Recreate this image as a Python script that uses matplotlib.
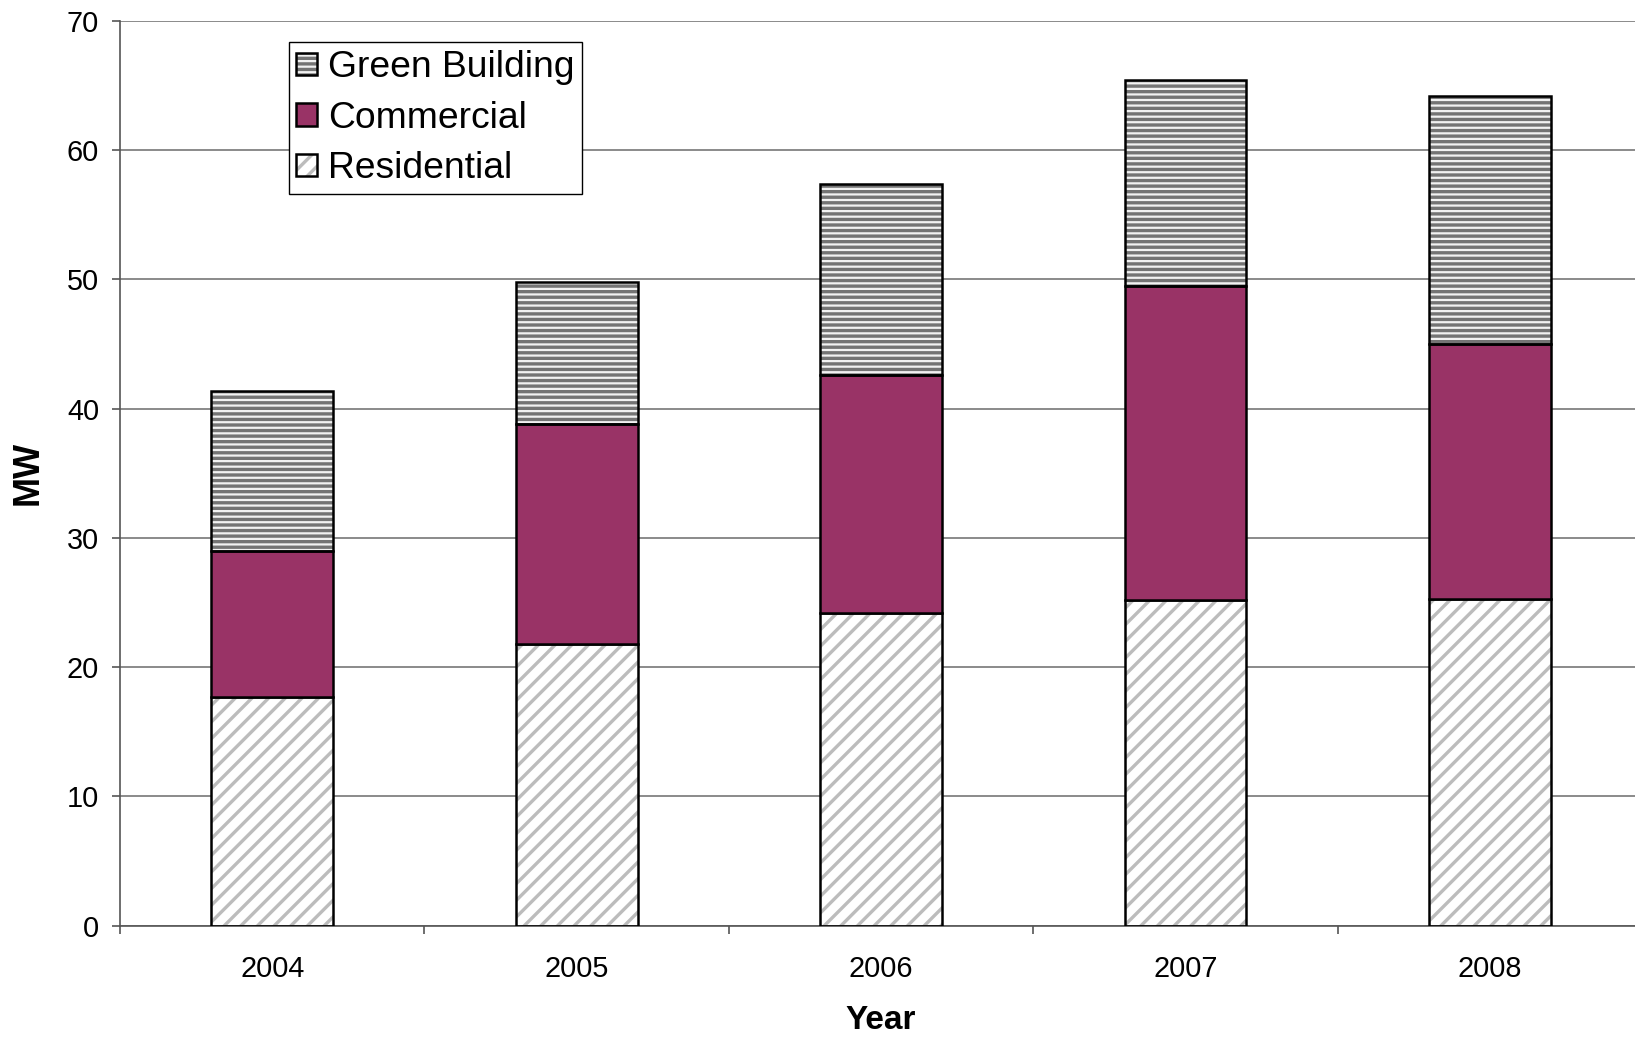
import matplotlib.pyplot as plt
from matplotlib.legend_handler import HandlerTuple
import numpy as np

plt.rcParams['font.family'] = ['Liberation Sans', 'DejaVu Sans']
plt.rcParams['hatch.linewidth'] = 1.2

# data (MW)
years = ['2004', '2005', '2006', '2007', '2008']
residential = [17.7, 21.8, 24.2, 25.2, 25.3]
commercial = [11.3, 17.0, 18.4, 24.3, 19.7]
green_building = [12.4, 11.0, 14.8, 15.9, 19.2]

x = np.arange(len(years))
w = 0.4
bottom2 = np.array(residential) + np.array(commercial)

fig = plt.figure(figsize=(8.175, 5.195), dpi=200)
ax = fig.add_axes([0.0734, 0.109, 0.931, 0.871])

# residential: diagonal gray hatch on white
r1 = ax.bar(x, residential, w, color='white', edgecolor='#bcbcbc', hatch='////', linewidth=0, zorder=2)
r2 = ax.bar(x, residential, w, fill=False, edgecolor='black', linewidth=0.9, zorder=3)
# commercial
c1 = ax.bar(x, commercial, w, bottom=residential, color='#993366', edgecolor='black', linewidth=0.9, zorder=3)
# green building: horizontal gray stripes
g1 = ax.bar(x, green_building, w, bottom=bottom2, color='#f2f2f2', edgecolor='#747474', hatch='------', linewidth=0, zorder=2)
g2 = ax.bar(x, green_building, w, bottom=bottom2, fill=False, edgecolor='black', linewidth=0.9, zorder=3)

ax.set_xlim(-0.5, len(years) - 0.5)
ax.set_ylim(0, 70)
ax.set_yticks(range(0, 71, 10))
ax.set_xticks(x)
ax.set_xticklabels(years)
ax.set_xticks(np.arange(-0.5, len(years), 1), minor=True)
ax.tick_params(axis='x', which='major', length=0, pad=10.5, labelsize=10.4)
ax.tick_params(axis='x', which='minor', length=3, width=0.6, color='#555555')
ax.tick_params(axis='y', length=3, width=0.6, color='#555555', pad=4.5, labelsize=10.4)

ax.grid(axis='y', color='#777777', linewidth=0.6, zorder=0)
ax.set_axisbelow(True)
for s in ['top', 'right']:
    ax.spines[s].set_visible(False)
ax.spines['left'].set_color('#555555')
ax.spines['bottom'].set_color('#555555')
ax.spines['left'].set_linewidth(0.6)
ax.spines['bottom'].set_linewidth(0.6)

ax.set_ylabel('MW', fontsize=13, fontweight='bold')
ax.set_xlabel('Year', fontsize=12, fontweight='bold')
ax.yaxis.set_label_coords(-0.049, 0.5)
ax.xaxis.set_label_coords(0.5, -0.088)

leg = ax.legend([(g1[0], g2[0]), c1[0], (r1[0], r2[0])],
                ['Green Building', 'Commercial', 'Residential'],
                handler_map={tuple: HandlerTuple(ndivide=1, pad=0)},
                loc='upper left', bbox_to_anchor=(0.111, 0.976), borderaxespad=0,
                fontsize=13.4, handlelength=0.55, handleheight=0.55, handletextpad=0.3,
                labelspacing=0.42, borderpad=0.2, fancybox=False, edgecolor='black',
                framealpha=1)
leg.get_frame().set_linewidth(0.5)

fig.savefig('out.png', dpi=200)
